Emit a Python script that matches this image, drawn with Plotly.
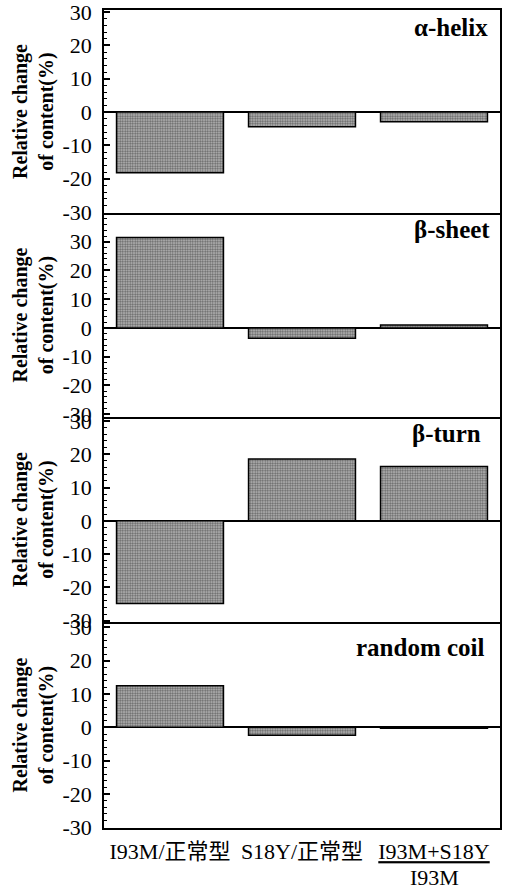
import plotly.graph_objects as go
from plotly.subplots import make_subplots

categories = ["I93M/正常型", "S18Y/正常型", "I93M+S18Y/I93M"]
tick_labels = ["I93M/正常型", "S18Y/正常型", "<u>I93M+S18Y</u>"]
denominator_label = "I93M"
panel_names = ["α-helix", "β-sheet", "β-turn", "random coil"]
alpha_helix = [-18.2, -4.4, -2.9]
beta_sheet = [31.5, -3.6, 1.0]
beta_turn = [-24.8, 18.6, 16.3]
random_coil = [12.5, -2.4, -0.3]
y_ticks = [-30, -20, -10, 0, 10, 20, 30]
y_tick_text = ["-30", "-20", "-10", "0", "10", "20", "30"]

series = [alpha_helix, beta_sheet, beta_turn, random_coil]
ranges = [[-30.3, 30.6], [-31, 40], [-30.4, 31.2], [-30.2, 31.6]]
domains = [[0.7518, 1.0], [0.5024, 0.7518], [0.2518, 0.5024], [0.0, 0.2518]]
label_pos = [(0.975, 0.979), (0.980, 0.732), (0.957, 0.482), (0.967, 0.221)]

SERIF = "Liberation Serif, Noto Sans CJK JP, serif"

fig = make_subplots(rows=4, cols=1, shared_xaxes=True, vertical_spacing=0)

for i, vals in enumerate(series):
    fig.add_trace(go.Bar(
        x=categories, y=vals,
        marker=dict(color="#808080", line=dict(color="black", width=1.5),
                    pattern=dict(shape=".", fgcolor="#0a0a0a", bgcolor="#bdbdbd",
                                 size=2.5, solidity=0.5, fillmode="overlay")),
        showlegend=False,
    ), row=i + 1, col=1)
    yname = "yaxis" if i == 0 else f"yaxis{i+1}"
    fig.layout[yname].update(
        domain=domains[i], range=ranges[i], tickvals=y_ticks, ticktext=y_tick_text,
        ticks="inside", ticklen=6, tickwidth=1.5, tickcolor="black",
        minor=dict(dtick=2, ticks="inside", ticklen=3, tickwidth=1, tickcolor="black"),
        showline=True, linecolor="black", linewidth=1.5, mirror=True,
        showgrid=False, zeroline=True, zerolinecolor="black", zerolinewidth=1.5,
        tickfont=dict(family=SERIF, size=22, color="black"), ticklabelstandoff=6,
        ticklabeloverflow="allow",
        title=dict(text="<b>Relative change<br>of content(%)</b>",
                   font=dict(family=SERIF, size=20, color="black"), standoff=4),
        automargin=False,
    )
    xname = "xaxis" if i == 0 else f"xaxis{i+1}"
    fig.layout[xname].update(
        showline=True, linecolor="black", linewidth=1.5, mirror=(i == 0),
        showgrid=False, ticks="", tickfont=dict(family=SERIF, size=22, color="black"),
        tickvals=categories, ticktext=tick_labels, ticklabeloverflow="allow",
        showticklabels=(i == 3), ticklabelstandoff=3, automargin=False,
    )
    fig.add_annotation(
        text=f"<b>{panel_names[i]}</b>", xref="paper", yref="paper",
        x=label_pos[i][0], y=label_pos[i][1], xanchor="right", yanchor="middle",
        showarrow=False, font=dict(family=SERIF, size=25, color="black"),
    )

fig.add_annotation(
    text=denominator_label, xref="x4", yref="paper", x=categories[2], y=-0.0605,
    xanchor="center", yanchor="middle", showarrow=False,
    font=dict(family=SERIF, size=22, color="black"),
)

fig.update_layout(
    width=509, height=890,
    margin=dict(l=104, r=9, t=10, b=62),
    paper_bgcolor="white", plot_bgcolor="white",
    bargap=0.19,
)

fig.write_html("out.html")
